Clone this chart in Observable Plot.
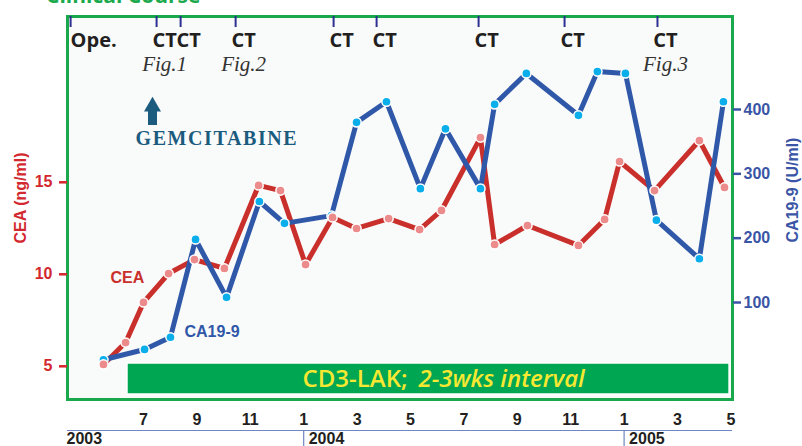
<!DOCTYPE html>
<html><head><meta charset="utf-8">
<script src="https://cdn.jsdelivr.net/npm/d3@7"></script>
<script src="https://cdn.jsdelivr.net/npm/@observablehq/plot@0.6"></script>
<style>
html,body{margin:0;padding:0;background:#fff;}
#wrap{position:relative;width:802px;height:446px;overflow:hidden;}
#wrap svg{position:absolute;left:0;top:0;}
#title{position:absolute;left:46px;top:-15px;font:700 21px/21px "Open Sans",sans-serif;color:#1aa94c;white-space:nowrap;z-index:2;}
</style></head><body>
<div id="wrap"><div id="title">Clinical Course</div></div>
<script>
// time axis: months counted from July 2003 (0 = Jul 2003, 6 = Jan 2004, 18 = Jan 2005)
const ceaMonths = [-1.50, -0.67, 0.00, 0.94, 1.91, 3.03, 4.31, 5.13, 6.07, 7.08, 7.98, 9.18, 10.34, 11.16, 12.62, 13.15, 14.38, 16.29, 17.27, 17.83, 19.14, 20.82, 21.76];
const ceaValues = [5.10, 6.29, 8.47, 10.04, 10.80, 10.32, 14.83, 14.55, 10.53, 13.09, 12.49, 13.03, 12.43, 13.47, 17.43, 11.62, 12.65, 11.57, 12.98, 16.13, 14.55, 17.27, 14.72];
const caMonths = [-1.50, 0.04, 1.01, 1.95, 3.11, 4.34, 5.28, 7.04, 7.98, 9.10, 10.37, 11.31, 12.62, 13.15, 14.34, 16.29, 17.00, 18.05, 19.21, 20.82, 21.72];
const caValues = [11, 27, 46, 198, 108, 257, 223, 235, 380, 412, 277, 370, 277, 408, 456, 391, 459, 456, 228, 168, 412];

const opeLabel = "Ope.";
const opeMonth = -2.73;
const ctMonths = [0.49, 1.39, 3.45, 7.12, 8.73, 12.55, 15.77, 19.25];
const figLabels = ["Fig.1", "Fig.2", "Fig.3"];
const figMonths = [0.49, 3.45, 19.25];

const monthTicks = [0, 2, 4, 6, 8, 10, 12, 14, 16, 18, 20, 22];
const monthLabels = ["7", "9", "11", "1", "3", "5", "7", "9", "11", "1", "3", "5"];
const firstYear = "2003";
const yearLabels = ["2004", "2005"];
const yearMonths = [6, 18];

const ceaTicks = [5, 10, 15];
const caTicks = [100, 200, 300, 400];

const lakStart = -0.6;
const lakEnd = 21.95;

const RED = "#c9302c", PINK = "#ec8b8b", BLUE = "#2f58a8", CYAN = "#0aaeea";
const AXRED = "#d2282e", AXBLUE = "#3a55a5";
const GREEN = "#19a84b", BAR = "#00a651", YELLOW = "#f7e832";
const NAVY = "#2e3192", INK = "#231f20", TEAL = "#1b5b7e", RULE = "#6f86c2";

// align the CA19-9 (right) axis with the CEA (left) scale
const caToCea = d3.scaleLinear().domain([100, 400]).range([8.467, 18.957]);

const cea = ceaMonths.map((m, i) => ({m, v: ceaValues[i]}));
const ca = caMonths.map((m, i) => ({m, v: caToCea(caValues[i])}));

const txt = d => d;
const bold = {fontWeight: 700};
const mid = {lineAnchor: "middle"};

const chart = Plot.plot({
  width: 802, height: 446,
  marginLeft: 67, marginRight: 70, marginTop: 16, marginBottom: 47,
  x: {domain: [0, 22], range: [143, 730.4], axis: null},
  y: {domain: [5, 15], range: [365.8, 181.8], axis: null},
  style: {fontFamily: "'Liberation Sans', Arial, sans-serif", background: "transparent", overflow: "visible"},
  marks: [
    Plot.frame({fill: "#f9fafa", stroke: GREEN, strokeWidth: 3}),
    // CD3-LAK period bar
    Plot.rect([{s: lakStart, e: lakEnd}], {x1: "s", x2: "e", insetTop: 347, insetBottom: 5, fill: BAR, stroke: "white", strokeWidth: 1.5}),
    Plot.text(["CD3-LAK;"], {text: txt, frameAnchor: "bottom-left", dx: 235, dy: -20, textAnchor: "start", ...mid, fill: YELLOW, fontSize: 24, fontWeight: 600, fontFamily: "Open Sans"}),
    Plot.text(["2-3wks interval"], {text: txt, frameAnchor: "bottom-left", dx: 351, dy: -20, textAnchor: "start", ...mid, fill: YELLOW, fontSize: 24, fontWeight: 600, fontFamily: "Open Sans", fontStyle: "italic"}),
    // event ticks on top
    Plot.ruleX([opeMonth, ...ctMonths], {x: txt, insetBottom: 372, stroke: NAVY, strokeWidth: 2}),
    Plot.text([opeLabel], {text: txt, x: [opeMonth], frameAnchor: "top", dy: 24, textAnchor: "start", ...mid, fontSize: 20, fontFamily: "Open Sans", fill: INK, ...bold}),
    Plot.text(ctMonths, {x: txt, text: () => "CT", frameAnchor: "top", dy: 24, dx: 8, ...mid, fontSize: 20, fontFamily: "Open Sans", fill: INK, ...bold}),
    Plot.text(figLabels, {x: figMonths, text: txt, frameAnchor: "top", dy: 48, dx: 8, ...mid, fontSize: 21, fontFamily: "'Liberation Serif', serif", fontStyle: "italic", fill: "#333"}),
    // gemcitabine annotation
    Plot.dot([0], {x: null, y: null, frameAnchor: "top-left", dx: 85, dy: 90, symbol: "triangle", r: 6.3, fill: TEAL, stroke: null}),
    Plot.rect([0], {insetLeft: 81, insetRight: 575, insetTop: 94, insetBottom: 274, fill: TEAL}),
    Plot.text(["GEMCITABINE"], {text: txt, frameAnchor: "top-left", dx: 68, dy: 122, textAnchor: "start", ...mid, fontSize: 20, fontWeight: 700, fontFamily: "'Liberation Serif', serif", fill: TEAL}),
    // series
    Plot.line(cea, {x: "m", y: "v", stroke: RED, strokeWidth: 5}),
    Plot.line(ca, {x: "m", y: "v", stroke: BLUE, strokeWidth: 5}),
    Plot.dot(ca, {x: "m", y: "v", r: 4.6, fill: CYAN, stroke: "white", strokeWidth: 1.5}),
    Plot.dot(cea, {x: "m", y: "v", r: 4.6, fill: PINK, stroke: "white", strokeWidth: 1.5}),
    Plot.text(["CEA"], {text: txt, frameAnchor: "top-left", dx: 43, dy: 261, textAnchor: "start", ...mid, fill: RED, fontSize: 16, ...bold}),
    Plot.text(["CA19-9"], {text: txt, frameAnchor: "top-left", dx: 117, dy: 315, textAnchor: "start", ...mid, fill: BLUE, fontSize: 16, ...bold}),
    // y axes
    Plot.axisY(ceaTicks, {anchor: "left", tickSize: 8, tickPadding: 7, color: AXRED, strokeWidth: 2.5, fontSize: 16, fontWeight: 700, label: null}),
    Plot.axisY(caTicks.map(caToCea), {anchor: "right", tickSize: 8, tickPadding: 3, tickFormat: d => Math.round(caToCea.invert(d)), color: AXBLUE, strokeWidth: 2.5, fontSize: 16, fontWeight: 700, label: null}),
    Plot.text(["CEA (ng/ml)"], {text: txt, frameAnchor: "left", dx: -47, dy: -10, rotate: -90, textAnchor: "middle", ...mid, fill: AXRED, fontSize: 16, ...bold}),
    Plot.text(["CA19-9 (U/ml)"], {text: txt, frameAnchor: "right", dx: 60, dy: -18, rotate: -90, textAnchor: "middle", ...mid, fill: AXBLUE, fontSize: 16, ...bold}),
    // time axis
    Plot.text(monthTicks, {x: txt, text: monthLabels, frameAnchor: "bottom", dy: 20, ...mid, fontSize: 16, fill: INK, ...bold}),
    Plot.ruleY([ceaTicks[0]], {dy: 64.2, stroke: RULE, strokeWidth: 1.2}),
    Plot.ruleX(yearMonths, {x: txt, insetBottom: 367, dy: 414, stroke: RULE, strokeWidth: 1.2}),
    Plot.text([firstYear], {text: txt, frameAnchor: "bottom-left", dx: -1, dy: 39.5, textAnchor: "start", ...mid, fontSize: 16, fill: INK, ...bold}),
    Plot.text(yearLabels, {x: yearMonths, text: txt, frameAnchor: "bottom", dy: 39.5, dx: 5, textAnchor: "start", ...mid, fontSize: 16, fill: INK, ...bold})
  ]
});

d3.select(chart).selectAll("text").filter(function() { return this.textContent === "GEMCITABINE"; }).attr("letter-spacing", "1.6px");
document.getElementById("wrap").appendChild(chart);
</script>
</body></html>
